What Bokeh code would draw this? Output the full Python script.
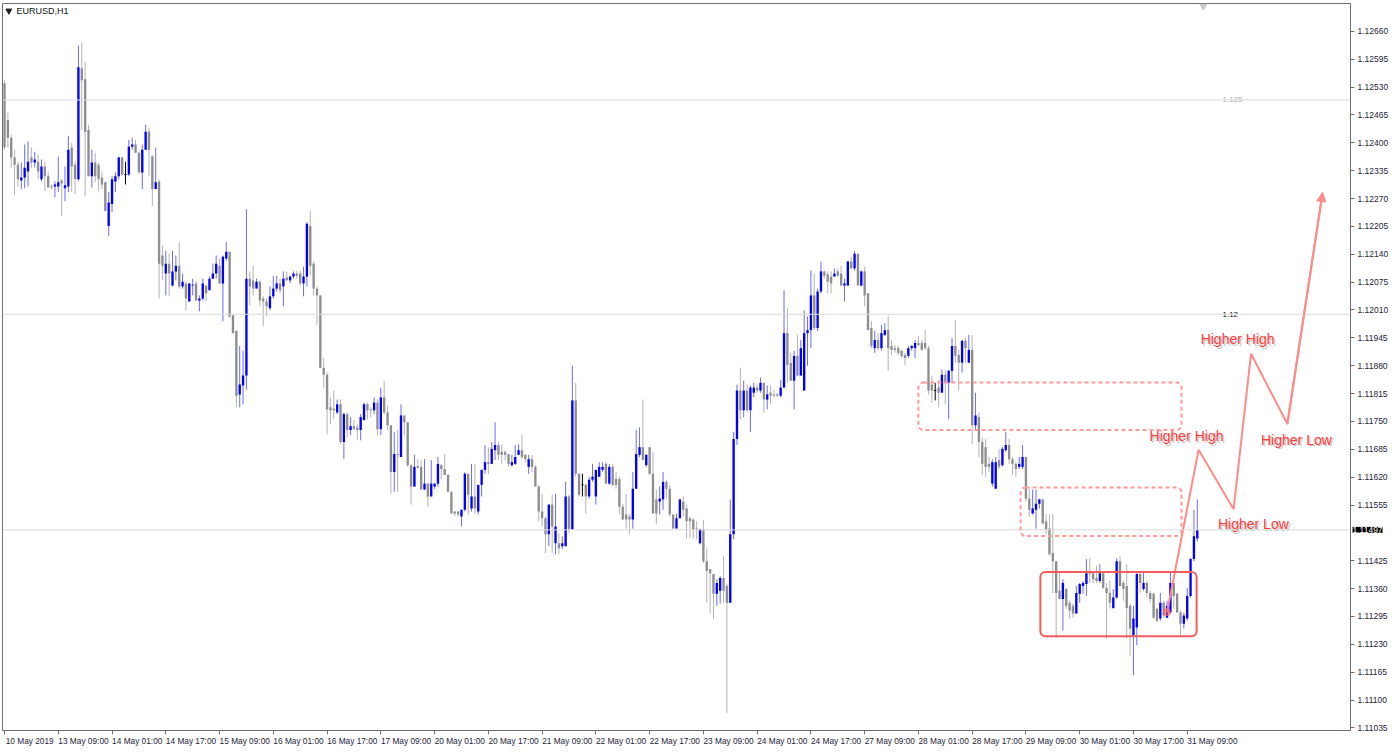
from bokeh.plotting import figure
from bokeh.models import (Range1d, FixedTicker, Span, BoxAnnotation, Label,
                          ColumnDataSource, PrintfTickFormatter, Arrow, NormalHead)
from bokeh.embed import file_html
from bokeh.resources import INLINE
from bokeh.core.properties import value

# ---------------- DATA (EURUSD H1, 10 May 17:00 .. 31 May 12:00) ----------------
open_ = [
    1.12539, 1.12453, 1.12412, 1.12366, 1.12349, 1.12312, 1.12319, 1.12333, 1.12366, 1.12354,
    1.12356, 1.12315, 1.12345, 1.12322, 1.12298, 1.12298, 1.12298, 1.12312, 1.12294, 1.12298,
    1.12389, 1.12349, 1.12315, 1.12574, 1.12548, 1.12430, 1.12322, 1.12354, 1.12349, 1.12319,
    1.12308, 1.12206, 1.12257, 1.12310, 1.12322, 1.12366, 1.12326, 1.12326, 1.12391, 1.12396,
    1.12377, 1.12331, 1.12384, 1.12426, 1.12368, 1.12292, 1.12310, 1.12137, 1.12095, 1.12118,
    1.12067, 1.12100, 1.12113, 1.12065, 1.12072, 1.12030, 1.12067, 1.12072, 1.12032, 1.12037,
    1.12067, 1.12056, 1.12083, 1.12095, 1.12113, 1.12072, 1.12130, 1.12146, 1.11998, 1.11961,
    1.11813, 1.11834, 1.11857, 1.12083, 1.12079, 1.12060, 1.12076, 1.12037, 1.12030, 1.12014,
    1.12042, 1.12060, 1.12072, 1.12065, 1.12086, 1.12079, 1.12088, 1.12095, 1.12095, 1.12072,
    1.12088, 1.12206, 1.12118, 1.12060, 1.12044, 1.11875, 1.11859, 1.11783, 1.11780, 1.11771,
    1.11790, 1.11702, 1.11767, 1.11730, 1.11739, 1.11736, 1.11730, 1.11753, 1.11790, 1.11778,
    1.11776, 1.11794, 1.11732, 1.11806, 1.11771, 1.11741, 1.11632, 1.11674, 1.11667, 1.11764,
    1.11748, 1.11648, 1.11598, 1.11646, 1.11644, 1.11591, 1.11605, 1.11575, 1.11598, 1.11605,
    1.11648, 1.11639, 1.11625, 1.11586, 1.11540, 1.11540, 1.11528, 1.11544, 1.11628, 1.11547,
    1.11575, 1.11540, 1.11602, 1.11637, 1.11655, 1.11651, 1.11683, 1.11695, 1.11679, 1.11679,
    1.11674, 1.11648, 1.11651, 1.11672, 1.11683, 1.11672, 1.11644, 1.11662, 1.11644, 1.11598,
    1.11540, 1.11524, 1.11487, 1.11556, 1.11466, 1.11466, 1.11459, 1.11459, 1.11575, 1.11498,
    1.11799, 1.11628, 1.11602, 1.11602, 1.11575, 1.11614, 1.11575, 1.11621, 1.11637, 1.11651,
    1.11605, 1.11644, 1.11616, 1.11616, 1.11551, 1.11533, 1.11528, 1.11521, 1.11593, 1.11672,
    1.11690, 1.11648, 1.11690, 1.11628, 1.11568, 1.11563, 1.11568, 1.11609, 1.11593, 1.11533,
    1.11500, 1.11524, 1.11563, 1.11547, 1.11524, 1.11521, 1.11500, 1.11466, 1.11498, 1.11424,
    1.11406, 1.11394, 1.11348, 1.11355, 1.11385, 1.11366, 1.11327, 1.11487, 1.11709, 1.11822,
    1.11776, 1.11822, 1.11776, 1.11817, 1.11829, 1.11822, 1.11840, 1.11801, 1.11817, 1.11813,
    1.11813, 1.11810, 1.11829, 1.11956, 1.11887, 1.11845, 1.11903, 1.11857, 1.11822, 1.11956,
    1.11963, 1.12044, 1.11968, 1.12053, 1.12100, 1.12093, 1.12088, 1.12088, 1.12100, 1.12095,
    1.12067, 1.12067, 1.12123, 1.12107, 1.12141, 1.12067, 1.12100, 1.12049, 1.11968, 1.11921,
    1.11940, 1.11921, 1.11952, 1.11963, 1.11926, 1.11921, 1.11921, 1.11915, 1.11905, 1.11903,
    1.11921, 1.11921, 1.11933, 1.11933, 1.11933, 1.11921, 1.11836, 1.11822, 1.11829, 1.11817,
    1.11859, 1.11840, 1.11868, 1.11926, 1.11905, 1.11887, 1.11938, 1.11887, 1.11917, 1.11741,
    1.11760, 1.11702, 1.11690, 1.11651, 1.11605, 1.11593, 1.11660, 1.11648, 1.11683, 1.11695,
    1.11662, 1.11651, 1.11644, 1.11644, 1.11667, 1.11570, 1.11535, 1.11544, 1.11558, 1.11568,
    1.11517, 1.11500, 1.11443, 1.11424, 1.11355, 1.11336, 1.11359, 1.11327, 1.11320, 1.11302,
    1.11348, 1.11366, 1.11371, 1.11396, 1.11396, 1.11385, 1.11378, 1.11396, 1.11362, 1.11350,
    1.11315, 1.11339, 1.11424, 1.11373, 1.11366, 1.11320, 1.11251, 1.11269, 1.11394, 1.11359,
    1.11373, 1.11350, 1.11348, 1.11313, 1.11290, 1.11327, 1.11292, 1.11304, 1.11373, 1.11348,
    1.11304, 1.11278, 1.11290, 1.11343, 1.11429, 1.11477,
]
high = [
    1.12546, 1.12470, 1.12419, 1.12384, 1.12356, 1.12354, 1.12396, 1.12403, 1.12389, 1.12379,
    1.12372, 1.12361, 1.12356, 1.12333, 1.12303, 1.12310, 1.12368, 1.12315, 1.12345, 1.12416,
    1.12400, 1.12356, 1.12627, 1.12634, 1.12588, 1.12442, 1.12384, 1.12377, 1.12354, 1.12333,
    1.12310, 1.12285, 1.12322, 1.12331, 1.12368, 1.12368, 1.12356, 1.12407, 1.12412, 1.12407,
    1.12379, 1.12396, 1.12442, 1.12435, 1.12372, 1.12389, 1.12315, 1.12160, 1.12148, 1.12141,
    1.12148, 1.12137, 1.12169, 1.12095, 1.12076, 1.12072, 1.12083, 1.12076, 1.12044, 1.12083,
    1.12067, 1.12088, 1.12118, 1.12137, 1.12130, 1.12137, 1.12169, 1.12146, 1.11998, 1.11963,
    1.11926, 1.11915, 1.12245, 1.12100, 1.12113, 1.12083, 1.12079, 1.12042, 1.12037, 1.12065,
    1.12090, 1.12090, 1.12083, 1.12100, 1.12100, 1.12090, 1.12100, 1.12102, 1.12102, 1.12111,
    1.12215, 1.12241, 1.12123, 1.12065, 1.12044, 1.11898, 1.11864, 1.11806, 1.11822, 1.11801,
    1.11801, 1.11771, 1.11771, 1.11760, 1.11753, 1.11743, 1.11767, 1.11794, 1.11794, 1.11783,
    1.11806, 1.11801, 1.11829, 1.11845, 1.11787, 1.11741, 1.11725, 1.11730, 1.11790, 1.11764,
    1.11748, 1.11651, 1.11672, 1.11662, 1.11660, 1.11662, 1.11605, 1.11660, 1.11605, 1.11667,
    1.11651, 1.11674, 1.11628, 1.11586, 1.11540, 1.11540, 1.11544, 1.11632, 1.11628, 1.11651,
    1.11651, 1.11602, 1.11637, 1.11695, 1.11690, 1.11702, 1.11748, 1.11702, 1.11697, 1.11683,
    1.11674, 1.11672, 1.11695, 1.11697, 1.11720, 1.11674, 1.11672, 1.11672, 1.11648, 1.11602,
    1.11581, 1.11528, 1.11556, 1.11579, 1.11581, 1.11489, 1.11482, 1.11609, 1.11579, 1.11880,
    1.11840, 1.11628, 1.11628, 1.11605, 1.11621, 1.11651, 1.11637, 1.11655, 1.11655, 1.11655,
    1.11651, 1.11651, 1.11632, 1.11621, 1.11558, 1.11581, 1.11533, 1.11632, 1.11730, 1.11736,
    1.11801, 1.11674, 1.11690, 1.11679, 1.11591, 1.11598, 1.11632, 1.11614, 1.11602, 1.11533,
    1.11535, 1.11570, 1.11575, 1.11556, 1.11528, 1.11524, 1.11517, 1.11500, 1.11521, 1.11454,
    1.11406, 1.11394, 1.11382, 1.11389, 1.11436, 1.11371, 1.11568, 1.11725, 1.11836, 1.11875,
    1.11845, 1.11836, 1.11834, 1.11840, 1.11836, 1.11852, 1.11840, 1.11834, 1.11834, 1.11824,
    1.11817, 1.11847, 1.12056, 1.12014, 1.11910, 1.11915, 1.11952, 1.11940, 1.12009, 1.11995,
    1.12102, 1.12095, 1.12060, 1.12123, 1.12102, 1.12100, 1.12100, 1.12107, 1.12107, 1.12113,
    1.12083, 1.12125, 1.12134, 1.12148, 1.12141, 1.12102, 1.12111, 1.12049, 1.11984, 1.11961,
    1.11956, 1.11975, 1.11979, 1.11995, 1.11940, 1.11928, 1.11926, 1.11917, 1.11910, 1.11926,
    1.11928, 1.11940, 1.11949, 1.11940, 1.11963, 1.11926, 1.11857, 1.11840, 1.11847, 1.11871,
    1.11871, 1.11871, 1.11945, 1.11986, 1.11917, 1.11940, 1.11945, 1.11952, 1.11952, 1.11817,
    1.11771, 1.11713, 1.11709, 1.11667, 1.11662, 1.11667, 1.11686, 1.11690, 1.11725, 1.11709,
    1.11667, 1.11655, 1.11667, 1.11695, 1.11667, 1.11593, 1.11591, 1.11591, 1.11570, 1.11570,
    1.11535, 1.11533, 1.11535, 1.11424, 1.11396, 1.11382, 1.11362, 1.11332, 1.11325, 1.11366,
    1.11373, 1.11378, 1.11429, 1.11431, 1.11401, 1.11413, 1.11417, 1.11401, 1.11373, 1.11378,
    1.11359, 1.11431, 1.11436, 1.11378, 1.11417, 1.11325, 1.11320, 1.11396, 1.11401, 1.11396,
    1.11378, 1.11355, 1.11350, 1.11315, 1.11350, 1.11332, 1.11332, 1.11401, 1.11389, 1.11350,
    1.11309, 1.11304, 1.11362, 1.11431, 1.11544, 1.11568,
]
low = [
    1.12384, 1.12389, 1.12342, 1.12278, 1.12298, 1.12292, 1.12294, 1.12298, 1.12342, 1.12342,
    1.12315, 1.12310, 1.12287, 1.12296, 1.12292, 1.12273, 1.12285, 1.12229, 1.12264, 1.12285,
    1.12285, 1.12280, 1.12310, 1.12430, 1.12275, 1.12322, 1.12296, 1.12308, 1.12287, 1.12292,
    1.12241, 1.12183, 1.12238, 1.12285, 1.12315, 1.12322, 1.12303, 1.12322, 1.12384, 1.12377,
    1.12331, 1.12292, 1.12384, 1.12322, 1.12252, 1.12292, 1.12037, 1.12079, 1.12044, 1.12042,
    1.12065, 1.12079, 1.12060, 1.12060, 1.12009, 1.12030, 1.12044, 1.12030, 1.12007, 1.12032,
    1.12030, 1.12056, 1.12083, 1.12083, 1.12072, 1.11984, 1.12125, 1.11991, 1.11956, 1.11783,
    1.11783, 1.11790, 1.11824, 1.12021, 1.12044, 1.12060, 1.12019, 1.11972, 1.11995, 1.12009,
    1.12037, 1.12053, 1.12049, 1.12019, 1.12079, 1.12072, 1.12083, 1.12083, 1.12067, 1.12042,
    1.12065, 1.12090, 1.12044, 1.11975, 1.11875, 1.11829, 1.11720, 1.11743, 1.11755, 1.11767,
    1.11697, 1.11662, 1.11713, 1.11718, 1.11730, 1.11706, 1.11706, 1.11753, 1.11755, 1.11760,
    1.11767, 1.11718, 1.11718, 1.11767, 1.11730, 1.11581, 1.11586, 1.11586, 1.11667, 1.11718,
    1.11644, 1.11556, 1.11598, 1.11639, 1.11591, 1.11591, 1.11551, 1.11575, 1.11593, 1.11598,
    1.11616, 1.11625, 1.11586, 1.11535, 1.11528, 1.11528, 1.11505, 1.11540, 1.11533, 1.11540,
    1.11535, 1.11533, 1.11575, 1.11628, 1.11628, 1.11651, 1.11660, 1.11660, 1.11651, 1.11660,
    1.11644, 1.11644, 1.11648, 1.11672, 1.11662, 1.11655, 1.11628, 1.11632, 1.11598, 1.11517,
    1.11505, 1.11443, 1.11459, 1.11443, 1.11440, 1.11440, 1.11452, 1.11459, 1.11489, 1.11498,
    1.11621, 1.11575, 1.11575, 1.11535, 1.11570, 1.11609, 1.11556, 1.11621, 1.11632, 1.11605,
    1.11602, 1.11598, 1.11593, 1.11533, 1.11521, 1.11500, 1.11487, 1.11500, 1.11593, 1.11667,
    1.11660, 1.11644, 1.11625, 1.11535, 1.11510, 1.11533, 1.11544, 1.11570, 1.11528, 1.11500,
    1.11500, 1.11524, 1.11528, 1.11477, 1.11477, 1.11477, 1.11475, 1.11463, 1.11420, 1.11327,
    1.11302, 1.11290, 1.11320, 1.11325, 1.11327, 1.11070, 1.11327, 1.11475, 1.11695, 1.11755,
    1.11760, 1.11771, 1.11725, 1.11806, 1.11817, 1.11817, 1.11771, 1.11778, 1.11790, 1.11806,
    1.11806, 1.11806, 1.11829, 1.11840, 1.11845, 1.11778, 1.11857, 1.11857, 1.11822, 1.11880,
    1.11921, 1.11963, 1.11961, 1.12049, 1.12083, 1.12049, 1.12049, 1.12088, 1.12088, 1.12067,
    1.12030, 1.12067, 1.12107, 1.12102, 1.12067, 1.12065, 1.12019, 1.11963, 1.11921, 1.11910,
    1.11917, 1.11915, 1.11949, 1.11868, 1.11905, 1.11910, 1.11905, 1.11898, 1.11882, 1.11898,
    1.11915, 1.11898, 1.11926, 1.11915, 1.11917, 1.11813, 1.11794, 1.11799, 1.11783, 1.11817,
    1.11790, 1.11755, 1.11840, 1.11887, 1.11822, 1.11864, 1.11887, 1.11887, 1.11697, 1.11730,
    1.11667, 1.11625, 1.11621, 1.11632, 1.11598, 1.11593, 1.11639, 1.11644, 1.11679, 1.11651,
    1.11625, 1.11621, 1.11639, 1.11639, 1.11563, 1.11528, 1.11533, 1.11500, 1.11547, 1.11510,
    1.11487, 1.11436, 1.11350, 1.11244, 1.11336, 1.11262, 1.11313, 1.11290, 1.11292, 1.11302,
    1.11327, 1.11348, 1.11343, 1.11373, 1.11373, 1.11373, 1.11373, 1.11359, 1.11244, 1.11313,
    1.11313, 1.11336, 1.11366, 1.11332, 1.11244, 1.11204, 1.11158, 1.11228, 1.11350, 1.11355,
    1.11339, 1.11327, 1.11290, 1.11281, 1.11285, 1.11292, 1.11292, 1.11302, 1.11313, 1.11304,
    1.11251, 1.11267, 1.11285, 1.11339, 1.11424, 1.11470,
]
close = [
    1.12389, 1.12412, 1.12366, 1.12349, 1.12315, 1.12319, 1.12342, 1.12356, 1.12354, 1.12361,
    1.12333, 1.12345, 1.12322, 1.12296, 1.12296, 1.12303, 1.12308, 1.12305, 1.12301, 1.12384,
    1.12345, 1.12315, 1.12576, 1.12546, 1.12426, 1.12322, 1.12354, 1.12322, 1.12315, 1.12303,
    1.12241, 1.12261, 1.12315, 1.12322, 1.12366, 1.12326, 1.12326, 1.12391, 1.12396, 1.12377,
    1.12331, 1.12384, 1.12426, 1.12384, 1.12292, 1.12308, 1.12118, 1.12113, 1.12118, 1.12095,
    1.12100, 1.12113, 1.12065, 1.12076, 1.12037, 1.12072, 1.12069, 1.12032, 1.12037, 1.12072,
    1.12049, 1.12083, 1.12095, 1.12118, 1.12072, 1.12134, 1.12146, 1.11995, 1.11956, 1.11810,
    1.11836, 1.11857, 1.12083, 1.12065, 1.12060, 1.12076, 1.12032, 1.12030, 1.12019, 1.12042,
    1.12060, 1.12072, 1.12056, 1.12083, 1.12079, 1.12088, 1.12095, 1.12090, 1.12072, 1.12088,
    1.12211, 1.12113, 1.12060, 1.12044, 1.11875, 1.11859, 1.11778, 1.11776, 1.11776, 1.11790,
    1.11702, 1.11767, 1.11730, 1.11739, 1.11732, 1.11730, 1.11760, 1.11790, 1.11776, 1.11776,
    1.11794, 1.11732, 1.11806, 1.11771, 1.11741, 1.11632, 1.11674, 1.11672, 1.11764, 1.11748,
    1.11648, 1.11598, 1.11644, 1.11642, 1.11591, 1.11605, 1.11575, 1.11605, 1.11605, 1.11651,
    1.11639, 1.11625, 1.11586, 1.11535, 1.11535, 1.11533, 1.11544, 1.11628, 1.11579, 1.11575,
    1.11547, 1.11602, 1.11637, 1.11655, 1.11651, 1.11686, 1.11695, 1.11672, 1.11672, 1.11672,
    1.11651, 1.11655, 1.11667, 1.11683, 1.11667, 1.11662, 1.11662, 1.11644, 1.11598, 1.11540,
    1.11524, 1.11487, 1.11556, 1.11505, 1.11505, 1.11454, 1.11466, 1.11575, 1.11498, 1.11799,
    1.11628, 1.11579, 1.11602, 1.11575, 1.11614, 1.11621, 1.11637, 1.11644, 1.11644, 1.11605,
    1.11644, 1.11602, 1.11602, 1.11551, 1.11521, 1.11521, 1.11521, 1.11593, 1.11674, 1.11690,
    1.11660, 1.11672, 1.11628, 1.11535, 1.11535, 1.11570, 1.11609, 1.11593, 1.11533, 1.11500,
    1.11524, 1.11568, 1.11544, 1.11517, 1.11517, 1.11498, 1.11498, 1.11498, 1.11424, 1.11401,
    1.11396, 1.11348, 1.11373, 1.11385, 1.11355, 1.11327, 1.11487, 1.11709, 1.11822, 1.11776,
    1.11822, 1.11776, 1.11829, 1.11829, 1.11822, 1.11840, 1.11801, 1.11813, 1.11810, 1.11810,
    1.11810, 1.11829, 1.11956, 1.11882, 1.11845, 1.11903, 1.11857, 1.11921, 1.11956, 1.11963,
    1.12044, 1.11968, 1.12053, 1.12100, 1.12090, 1.12076, 1.12072, 1.12095, 1.12090, 1.12067,
    1.12072, 1.12123, 1.12107, 1.12141, 1.12067, 1.12100, 1.12044, 1.11963, 1.11926, 1.11940,
    1.11921, 1.11956, 1.11963, 1.11921, 1.11917, 1.11917, 1.11910, 1.11903, 1.11898, 1.11921,
    1.11926, 1.11933, 1.11928, 1.11917, 1.11921, 1.11822, 1.11822, 1.11822, 1.11817, 1.11859,
    1.11840, 1.11868, 1.11926, 1.11903, 1.11887, 1.11938, 1.11921, 1.11917, 1.11741, 1.11764,
    1.11702, 1.11651, 1.11644, 1.11644, 1.11655, 1.11655, 1.11644, 1.11686, 1.11695, 1.11662,
    1.11651, 1.11639, 1.11651, 1.11667, 1.11570, 1.11544, 1.11547, 1.11558, 1.11568, 1.11512,
    1.11498, 1.11440, 1.11424, 1.11350, 1.11336, 1.11373, 1.11320, 1.11309, 1.11302, 1.11350,
    1.11371, 1.11373, 1.11396, 1.11394, 1.11382, 1.11378, 1.11396, 1.11362, 1.11350, 1.11327,
    1.11339, 1.11424, 1.11366, 1.11359, 1.11315, 1.11267, 1.11290, 1.11394, 1.11373, 1.11373,
    1.11350, 1.11336, 1.11292, 1.11285, 1.11327, 1.11297, 1.11320, 1.11373, 1.11343, 1.11304,
    1.11278, 1.11297, 1.11343, 1.11429, 1.11482, 1.11497,
]

# time axis labels (every 16 hourly bars)
time_tick_bars = [0, 16, 32, 48, 64, 80, 96, 112, 128, 144, 160, 176, 192, 208,
                  224, 240, 256, 272, 288, 304, 320, 336, 352]
time_tick_labels = ["10 May 2019", "13 May 09:00", "14 May 01:00", "14 May 17:00",
                    "15 May 09:00", "16 May 01:00", "16 May 17:00", "17 May 09:00",
                    "20 May 01:00", "20 May 17:00", "21 May 09:00", "22 May 01:00",
                    "22 May 17:00", "23 May 09:00", "24 May 01:00", "24 May 17:00",
                    "27 May 09:00", "28 May 01:00", "28 May 17:00", "29 May 09:00",
                    "30 May 01:00", "30 May 17:00", "31 May 09:00"]
price_ticks = [1.12660, 1.12595, 1.12530, 1.12465, 1.12400, 1.12335, 1.12270, 1.12205,
               1.12140, 1.12075, 1.12010, 1.11945, 1.11880, 1.11815, 1.11750, 1.11685,
               1.11620, 1.11555, 1.11425, 1.11360, 1.11295, 1.11230, 1.11165,
               1.11100, 1.11035]
level_lines = [1.125, 1.12]
level_labels = ["1.125", "1.12"]
bid = 1.11497

# annotations drawn on the chart
box_left = [272.0, 302.4, 308.3]
box_right = [350.3, 350.3, 354.8]
box_top = [1.11841, 1.11596, 1.11399]
box_bottom = [1.11730, 1.11483, 1.11249]
zz_x = [346.0, 355.4, 365.8, 371.0, 381.8, 392.3]
zz_y = [1.11305, 1.11684, 1.11545, 1.11908, 1.11744, 1.12284]
ann_text = ["Higher High", "Higher Low", "Higher High", "Higher Low"]
ann_x = [351.8, 371.7, 367.0, 384.5]
ann_y = [1.11716, 1.11510, 1.11942, 1.11707]

# ---------------- FIGURE ----------------
FONT = "Liberation Sans"
AX_COL = "#25253a"
FRAME_COL = "#6f6f6f"

p = figure(frame_width=1348, frame_height=727,
           x_range=Range1d(-0.6, 400.6), y_range=Range1d(1.11029, 1.12725),
           y_axis_location="right", output_backend="svg", toolbar_location=None,
           min_border=0, min_border_left=2, min_border_top=3,
           background_fill_color="white", border_fill_color="white")
p.grid.visible = False
p.outline_line_color = FRAME_COL
p.outline_line_width = 1

# right price axis
ya = p.yaxis[0]
ya.ticker = FixedTicker(ticks=price_ticks, minor_ticks=[])
ya.formatter = PrintfTickFormatter(format="%.5f")
ya.major_label_text_font = FONT
ya.major_label_text_font_size = "8.5px"
ya.major_label_text_color = AX_COL
ya.major_tick_out = 4
ya.major_tick_in = 0
ya.major_tick_line_color = FRAME_COL
ya.minor_tick_line_color = None
ya.axis_line_color = FRAME_COL
ya.major_label_standoff = 3

# bottom time axis: each label starts at its tick (label centre shifted right)
xa = p.xaxis[0]
shift = 7.5
xa.ticker = FixedTicker(ticks=[b + shift for b in time_tick_bars], minor_ticks=time_tick_bars)
xa.major_label_overrides = {b + shift: t for b, t in zip(time_tick_bars, time_tick_labels)}
xa.major_label_text_font = FONT
xa.major_label_text_font_size = "8.3px"
xa.major_label_text_color = AX_COL
xa.major_tick_line_color = None
xa.major_tick_out = 0
xa.major_tick_in = 0
xa.minor_tick_out = 4
xa.minor_tick_in = 0
xa.minor_tick_line_color = FRAME_COL
xa.axis_line_color = FRAME_COL
xa.major_label_standoff = 1

# horizontal level lines
for lv in level_lines + [bid]:
    p.add_layout(Span(location=lv, dimension="width", line_color="#dadada", line_width=1))
p.text(x=[362.5, 362.5], y=level_lines, text=level_labels,
       text_font=value(FONT), text_font_size="8px",
       text_color=["#b4b4b4", "#111111"], text_baseline="middle", text_align="left")

# candles
n = len(close)
xs = list(range(n))
tops, bots, wick_c, body_c, hi, lo = [], [], [], [], [], []
for o, h, l, c in zip(open_, high, low, close):
    t, b = max(o, c), min(o, c)
    if t - b < 0.00002:
        m = (t + b) / 2
        t, b = m + 0.00001, m - 0.00001
    tops.append(t)
    bots.append(b)
    hi.append(max(h, o, c))
    lo.append(min(l, o, c))
    if c > o:
        body_c.append("#0000ff"); wick_c.append("#6b6bff")
    elif c < o:
        body_c.append("#8e8e8e"); wick_c.append("#b3b3b3")
    else:
        body_c.append("#000000"); wick_c.append("#000000")

src = ColumnDataSource(dict(x=xs, top=tops, bottom=bots, high=hi, low=lo,
                            wc=wick_c, bc=body_c))
p.segment(x0="x", y0="low", x1="x", y1="high", line_color="wc", line_width=1, source=src)
p.vbar(x="x", width=0.7, top="top", bottom="bottom", fill_color="bc",
       line_color=None, source=src)

# boxes
styles = [dict(line_color="#ff9a9a", line_dash="4 3", line_width=2),
          dict(line_color="#ff9a9a", line_dash="4 3", line_width=2),
          dict(line_color="#f25c5c", line_dash="solid", line_width=2)]
for L, R, T, B, st in zip(box_left, box_right, box_top, box_bottom, styles):
    p.add_layout(BoxAnnotation(left=L, right=R, top=T, bottom=B, fill_alpha=0,
                               line_alpha=1.0, border_radius=5, **st))

# zig-zag projection
p.line(zz_x, zz_y, line_color="#ff8a8a", line_width=2)
p.scatter([zz_x[0]], [zz_y[0]], size=7, color="#ff6060", alpha=0.6)
p.add_layout(Arrow(end=NormalHead(size=9, fill_color="#ff8a8a", line_color="#ff8a8a"),
                   x_start=zz_x[-2], y_start=zz_y[-2], x_end=zz_x[-1], y_end=zz_y[-1],
                   line_color="#ff8a8a", line_width=2))

# annotation texts (shadow + text)
p.text(x=ann_x, y=ann_y, text=ann_text, text_font=value(FONT), text_font_size="14px",
       text_color="#999999", text_alpha=0.55, text_align="center", text_baseline="middle",
       x_offset=1.5, y_offset=1.5)
p.text(x=ann_x, y=ann_y, text=ann_text, text_font=value(FONT), text_font_size="14px",
       text_color="#ff3c3c", text_align="center", text_baseline="middle")

# chart title
p.scatter([1.3], [1.12708], marker="inverted_triangle", size=6, color="#222222")
p.text(x=[3.6], y=[1.12708], text=["EURUSD,H1"], text_font=value(FONT),
       text_font_size="9px", text_color="#111111", text_baseline="middle", text_align="left")
p.scatter([356.8], [1.12719], marker="inverted_triangle", size=7, color="#c8c8c8")

# current bid label on the price scale (lives in a side panel so it is not clipped)
p.add_layout(Label(x=400.6, y=bid, x_units="data", y_units="data", x_offset=2,
                   text="1.11497", text_font=FONT, text_font_size="8.5px",
                   text_color="white", background_fill_color="black",
                   text_baseline="middle", text_align="left"), "below")

open("out.html", "w").write(file_html(p, INLINE))
